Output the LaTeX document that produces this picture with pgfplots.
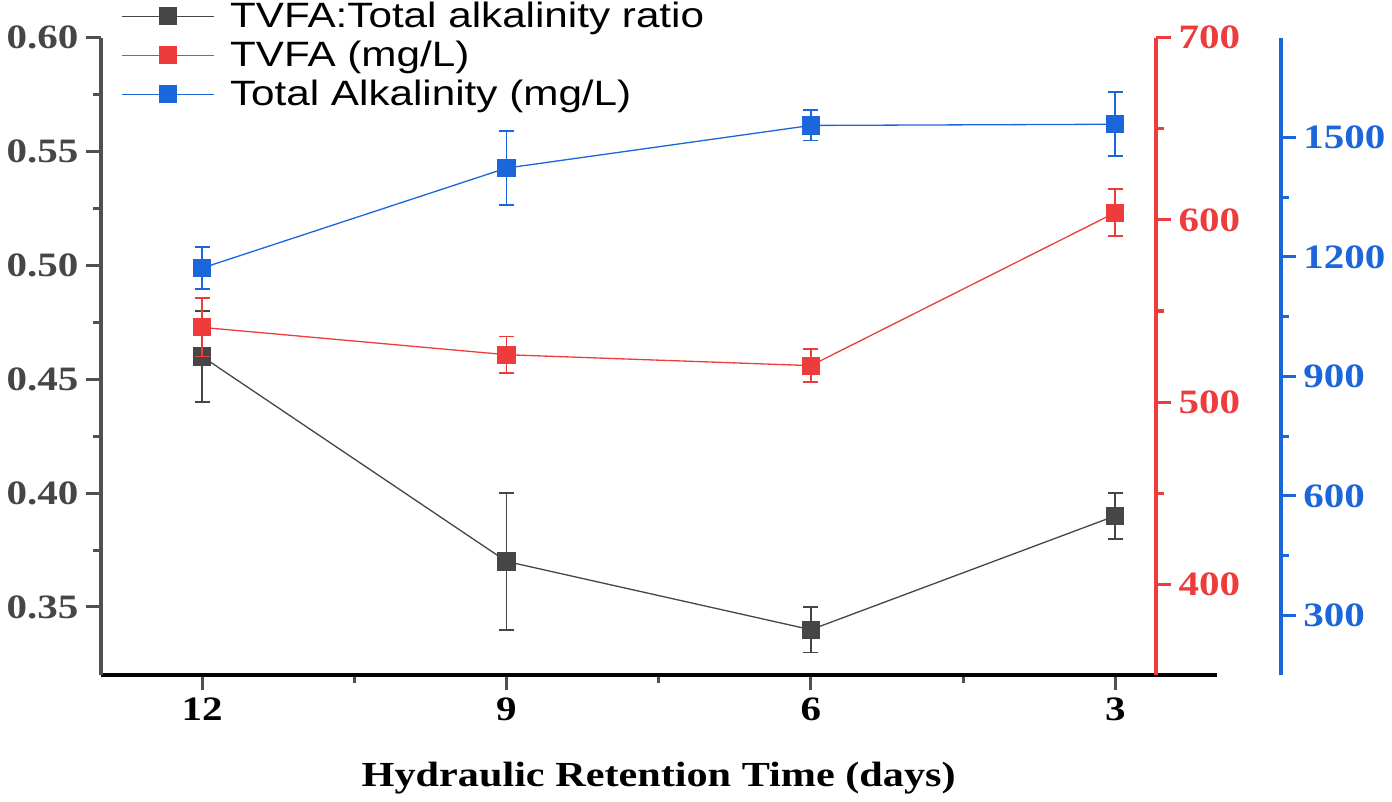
\documentclass[border=0pt]{standalone}
\usepackage{fontspec}
\setmainfont{Liberation Serif}
\newfontfamily\tickfont[FakeStretch=1.2]{Liberation Serif}
\newfontfamily\legfont[FakeStretch=1.2]{Liberation Sans}
\usepackage{pgfplots}
\pgfplotsset{compat=1.18}

\definecolor{cblack}{RGB}{70,70,70}
\definecolor{cred}{RGB}{238,60,60}
\definecolor{cblue}{RGB}{28,102,220}
\definecolor{caxis}{RGB}{80,80,80}

\pgfplotsset{
  common/.style={
    scale only axis, height=317pt,
    x dir=reverse, xmax=13,
    ticklabel style={font=\tickfont\bfseries\fontsize{17}{20}\selectfont},
    /pgf/number format/assume math mode=true,
    /pgf/number format/1000 sep={},
    tick align=outside, major tick length=7.5pt, minor tick length=3.75pt,
    axis line style={-, line width=2pt},
  },
  legser/.style={color=#1, line width=0.65pt, mark=square*, mark size=4.2pt,
    mark options={solid, fill=#1, draw=#1}},
  ser/.style={legser=#1,
    error bars/.cd, y dir=both, y explicit,
    error bar style={line width=0.9pt, color=#1},
    error mark options={rotate=90, mark size=3.75pt, line width=0.9pt, color=#1}},
}

\begin{document}
\begin{tikzpicture}
% ratio, left axis
\begin{axis}[common, width=555pt, xmin=2, ymin=0.32, ymax=0.60,
  axis x line*=bottom, axis y line*=left,
  xtick={3,6,9,12}, minor x tick num=1,
  ytick={0.35,0.4,0.45,0.5,0.55,0.6}, minor y tick num=1,
  yticklabel style={color=cblack, /pgf/number format/.cd, fixed, fixed zerofill, precision=2},
  x axis line style={black}, y axis line style={caxis},
  tick style={line width=1.5pt, color=caxis},
  xlabel={Hydraulic Retention Time (days)},
  xlabel style={font=\tickfont\bfseries\fontsize{17.5}{20}\selectfont, yshift=-14pt},
  legend style={at={(axis description cs:0,1)}, anchor=north west,
    xshift=10pt, yshift=19pt, draw=none, fill=none, inner sep=0pt,
    nodes={inner sep=1pt}, row sep=3.2pt, column sep=6.5pt,
    font=\legfont\fontsize{17.5}{20}\selectfont},
  legend cell align=left,
  legend image code/.code={\draw[mark repeat=2,mark phase=2,#1]
    plot coordinates {(0pt,0pt)(23pt,0pt)(46pt,0pt)};},
]
\addplot[ser=cblack] table[x=x, y=y, y error=e] {
x  y    e
12 0.46 0.02
9  0.37 0.03
6  0.34 0.01
3  0.39 0.01
};
\addlegendentry{TVFA:Total alkalinity ratio}
\addlegendimage{legser=cred}
\addlegendentry{TVFA (mg/L)}
\addlegendimage{legser=cblue}
\addlegendentry{Total Alkalinity (mg/L)}
\end{axis}

% TVFA, red axis
\begin{axis}[common, width=525pt, xmin=2.5937, ymin=350, ymax=700,
  axis x line=none, axis y line*=right,
  ytick={400,500,600,700}, minor y tick num=1,
  axis line style={cred}, tick style={line width=1.5pt, color=cred},
  yticklabel style={color=cred},
]
\addplot[ser=cred] table[x=x, y=y, y error=e] {
x  y     e
12 541   16
9  526   10
6  520   9
3  604   13
};
\end{axis}

% alkalinity, blue axis
\begin{axis}[common, width=587pt, xmin=1.366, ymin=150, ymax=1750,
  axis x line=none, axis y line*=right,
  ytick={300,600,900,1200,1500}, minor y tick num=1,
  axis line style={cblue}, tick style={line width=1.5pt, color=cblue},
  yticklabel style={color=cblue},
]
\addplot[ser=cblue] table[x=x, y=y, y error=e] {
x  y     e
12 1172  52
9  1423  93
6  1530  38
3  1533  80
};
\end{axis}
\end{tikzpicture}
\end{document}
